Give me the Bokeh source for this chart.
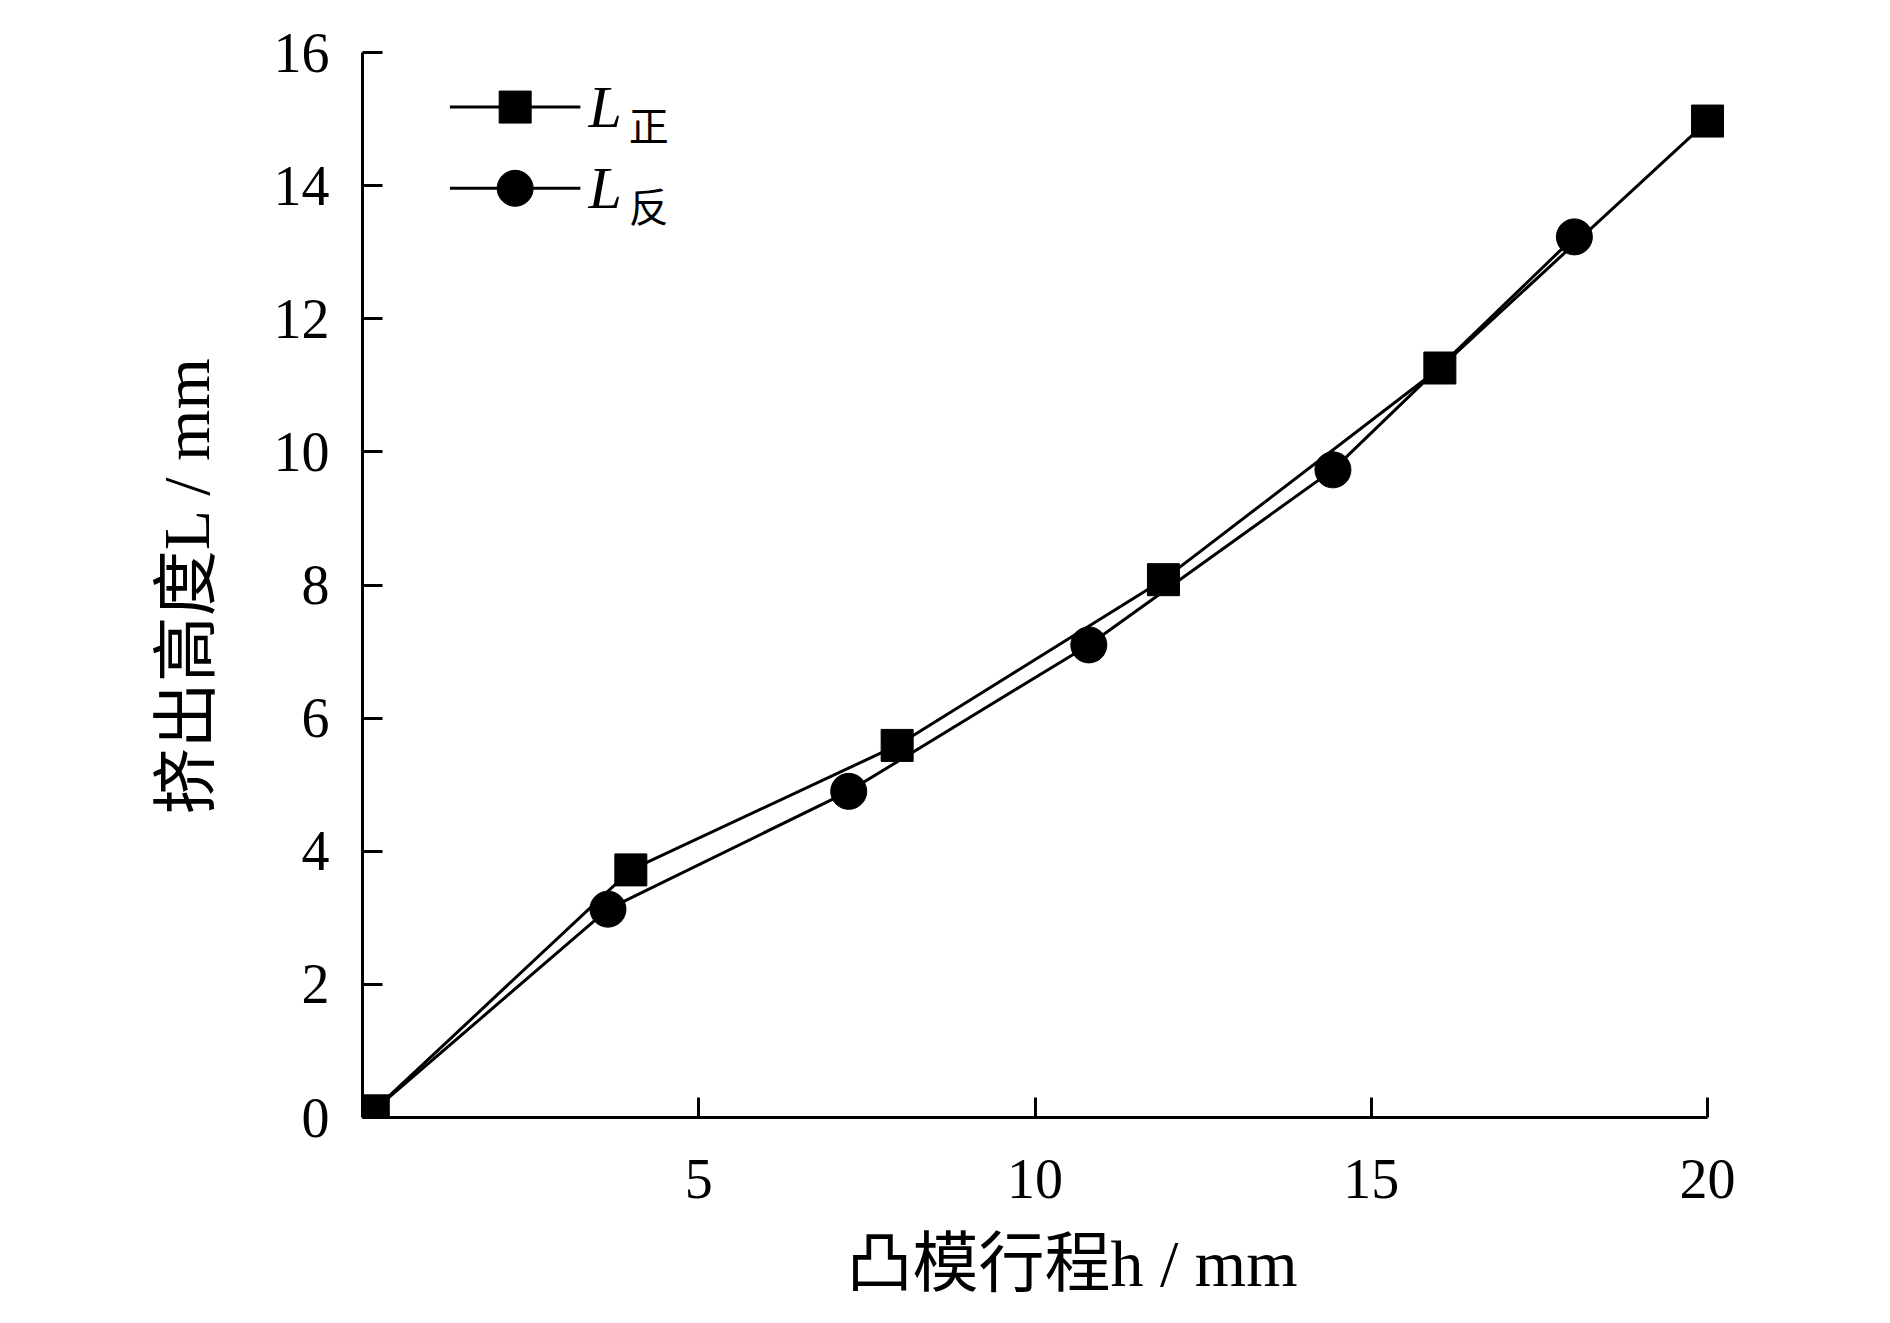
from bokeh.plotting import figure
from bokeh.models import FixedTicker, Range1d, Label
from bokeh.embed import file_html
from bokeh.resources import INLINE

# ---- data ----
x_zheng = [0.16, 3.99, 7.95, 11.91, 16.02, 20.0]
y_zheng = [0.10, 3.72, 5.59, 8.08, 11.26, 14.97]
x_fan = [0.16, 3.65, 7.23, 10.80, 14.43, 18.02]
y_fan = [0.10, 3.13, 4.90, 7.10, 9.73, 13.23]
x_ticks = [5, 10, 15, 20]
y_ticks = [0, 2, 4, 6, 8, 10, 12, 14, 16]
x_title = "凸模行程h / mm"
y_title = "挤出高度L / mm"
legend_main = "L"
legend_subs = ["正", "反"]

FONT = "'Liberation Serif', 'Times New Roman', 'Noto Sans CJK SC'"

p = figure(width=1874, height=1307, output_backend="svg", toolbar_location=None,
           x_range=Range1d(0, 21.1), y_range=Range1d(0, 16),
           min_border_left=362, min_border_right=93, min_border_top=52, min_border_bottom=190)
p.outline_line_color = None
p.grid.visible = False
p.background_fill_color = "white"

for ax in (p.xaxis[0], p.yaxis[0]):
    ax.axis_line_width = 3
    ax.axis_line_color = "black"
    ax.major_tick_line_width = 3
    ax.major_tick_line_color = "black"
    ax.major_tick_in = 20
    ax.major_tick_out = 0
    ax.minor_tick_line_color = None
    ax.major_label_text_font = FONT
    ax.major_label_text_font_size = "56px"
    ax.major_label_text_color = "black"
    ax.axis_label_text_font = FONT
    ax.axis_label_text_font_size = "66px"
    ax.axis_label_text_font_style = "normal"
    ax.axis_label_text_color = "black"

p.xaxis.bounds = (0, 20)
p.yaxis.bounds = (0, 16)
p.xaxis.ticker = FixedTicker(ticks=x_ticks)
p.yaxis.ticker = FixedTicker(ticks=y_ticks)
p.xaxis.major_label_standoff = 42
p.yaxis.major_label_standoff = 33
p.xaxis.axis_label = x_title
p.yaxis.axis_label = y_title
p.xaxis.axis_label_standoff = 26
p.yaxis.axis_label_standoff = 48

p.line(x_zheng, y_zheng, line_color="black", line_width=3)
p.line(x_fan, y_fan, line_color="black", line_width=3)
p.scatter(x_fan[1:], y_fan[1:], marker="circle", size=36, fill_color="black", line_color="black")
p.scatter(x_zheng, y_zheng, marker="square", size=32, fill_color="black", line_color="black")

# ---- legend (drawn manually to allow subscripts) ----
leg_x0, leg_x1, leg_xm = 1.30, 3.24, 2.27
leg_ys = [15.18, 13.96]
markers = ["square", "circle"]
msizes = [32, 36]
for yy, mk, ms, sub in zip(leg_ys, markers, msizes, legend_subs):
    p.line([leg_x0, leg_x1], [yy, yy], line_color="black", line_width=3)
    p.scatter([leg_xm], [yy], marker=mk, size=ms, fill_color="black", line_color="black")
    p.add_layout(Label(x=leg_x1 + 0.12, y=yy, text=legend_main, text_font=FONT,
                       text_font_style="italic", text_font_size="60px",
                       text_baseline="middle", text_align="left", text_color="black"))
    p.add_layout(Label(x=leg_x1 + 0.72, y=yy - 0.30, text=sub, text_font=FONT,
                       text_font_size="40px", text_baseline="middle",
                       text_align="left", text_color="black"))

open("out.html", "w").write(file_html(p, INLINE))
